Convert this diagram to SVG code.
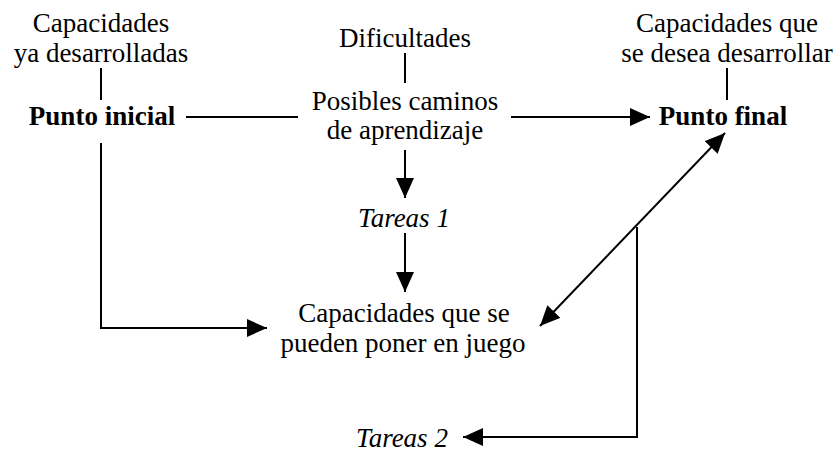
<svg xmlns="http://www.w3.org/2000/svg" width="836" height="453" viewBox="0 0 836 453">
<style>
text{font-family:'Liberation Serif','Times New Roman',Times,'DejaVu Serif',serif;font-size:27px;fill:#000;text-anchor:middle}
.b{font-weight:bold}
.i{font-style:italic}
.c{fill:none;stroke:#000;stroke-width:2}
</style>
<defs>
<marker id="ah" markerUnits="userSpaceOnUse" markerWidth="20" markerHeight="18" refX="20" refY="9" orient="auto-start-reverse" viewBox="0 0 20 18">
<path d="M0,0 L20,9 L0,18 z" fill="#000"/>
</marker>
</defs>
<rect width="836" height="453" fill="#fff"/>
<g id="connectors">
<line class="c" x1="101" y1="68" x2="101" y2="100"/>
<line class="c" x1="186" y1="117" x2="298" y2="117"/>
<line class="c" x1="405" y1="53" x2="405" y2="83"/>
<line class="c" x1="511" y1="117" x2="650" y2="117" marker-end="url(#ah)"/>
<line class="c" x1="727" y1="68" x2="727" y2="100"/>
<line class="c" x1="405" y1="150" x2="405" y2="198" marker-end="url(#ah)"/>
<line class="c" x1="405" y1="233" x2="405" y2="292" marker-end="url(#ah)"/>
<path class="c" d="M101,143 V328 H267" marker-end="url(#ah)"/>
<line class="c" x1="540" y1="326" x2="725" y2="133" marker-start="url(#ah)" marker-end="url(#ah)"/>
<path class="c" d="M637,227 V437 H463" marker-end="url(#ah)"/>
</g>
<g id="n-cap-ya" font-family="Liberation Serif, serif"><text x="101" y="32">Capacidades</text><text x="101" y="62">ya desarrolladas</text></g>
<g id="n-punto-inicial"><text class="b" x="102" y="125">Punto inicial</text></g>
<g id="n-dificultades"><text x="405" y="47">Dificultades</text></g>
<g id="n-caminos"><text x="405" y="110">Posibles caminos</text><text x="405" y="139">de aprendizaje</text></g>
<g id="n-cap-desea"><text x="727" y="32">Capacidades que</text><text x="727" y="62">se desea desarrollar</text></g>
<g id="n-punto-final"><text class="b" x="723" y="125">Punto final</text></g>
<g id="n-tareas1"><text class="i" x="404" y="227">Tareas 1</text></g>
<g id="n-cap-juego"><text x="404" y="322">Capacidades que se</text><text x="403" y="352">pueden poner en juego</text></g>
<g id="n-tareas2"><text class="i" x="402" y="447">Tareas 2</text></g>
</svg>
